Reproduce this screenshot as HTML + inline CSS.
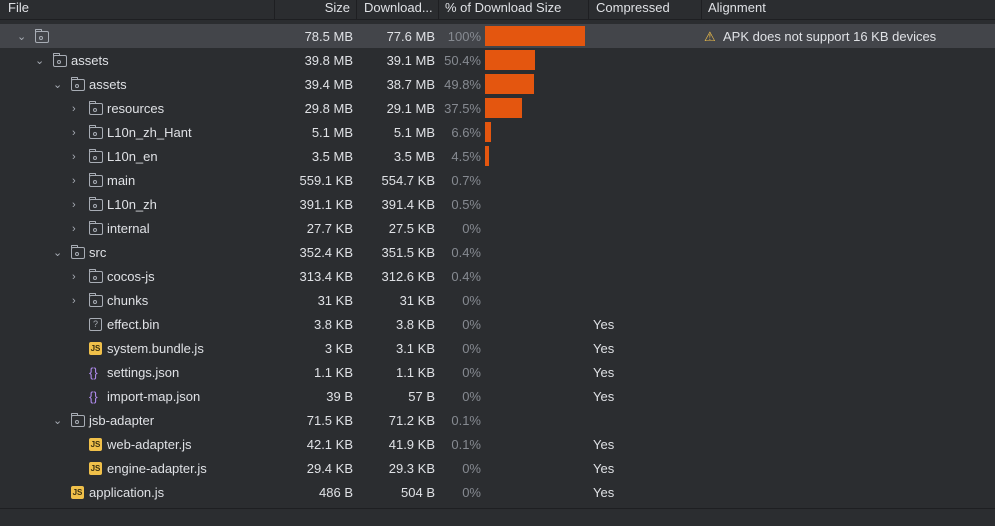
<!DOCTYPE html>
<html><head><meta charset="utf-8"><style>
body{margin:0;width:995px;height:526px;background:#2b2d30;font-family:"Liberation Sans","DejaVu Sans",sans-serif;font-size:13px;color:#dfe1e5;overflow:hidden;position:relative}
.a{position:absolute;white-space:nowrap}
.row .a{top:1px}
.hd{position:absolute;top:0;left:0;width:995px;height:19px;border-bottom:1px solid #1e1f22}
.sep{position:absolute;top:0;width:1px;height:19px;background:#1e1f22}
.row{position:absolute;left:0;width:995px;height:24px;line-height:24px}
.r{text-align:right}
.p{color:#868a91}
.bar{position:absolute;top:2px;height:20px;left:485px;background:#e4560f}
.fold{position:absolute;top:7px;width:12px;height:10px;border:1px solid #a8adb5;border-radius:2px}
.fold:before{content:"";position:absolute;left:-1px;top:-3px;width:5px;height:2px;border:1px solid #a8adb5;border-bottom:none;border-radius:1px 1px 0 0}
.fold:after{content:"";position:absolute;left:3px;top:4px;width:2px;height:2px;border:1px solid #a8adb5;border-radius:50%}
.js{position:absolute;top:6px;width:13px;height:13px;background:#f0c04a;border-radius:2px;color:#3a2f10;font-size:8px;line-height:14px;text-align:center;font-weight:bold}
.q{position:absolute;top:6px;width:11px;height:11px;border:1px solid #a8adb5;border-radius:2px;color:#a8adb5;font-size:9px;line-height:11px;text-align:center}
.br{position:absolute;top:1px;color:#b18cf0;font-size:13px}
.ch{position:absolute;top:1px;color:#a8adb5;font-size:11px}
</style></head><body>
<div class="hd"></div>
<div class="a" style="left:8px;top:0;line-height:16px">File</div>
<div class="sep" style="left:274px"></div>
<div class="a r" style="left:280px;width:70px;top:0;line-height:16px">Size</div>
<div class="sep" style="left:356px"></div>
<div class="a" style="left:364px;top:0;line-height:16px">Download...</div>
<div class="sep" style="left:438px"></div>
<div class="a" style="left:445px;top:0;line-height:16px">% of Download Size</div>
<div class="sep" style="left:588px"></div>
<div class="a" style="left:596px;top:0;line-height:16px">Compressed</div>
<div class="sep" style="left:701px"></div>
<div class="a" style="left:708px;top:0;line-height:16px">Alignment</div>

<div class="row" style="top:24px;background:#43454a"><span class="ch" style="left:17px">&#8964;</span><span class="fold" style="left:35px"></span><span class="a r" style="left:250px;width:103px">78.5 MB</span><span class="a r" style="left:330px;width:105px">77.6 MB</span><span class="a r p" style="left:430px;width:51px">100%</span><div class="bar" style="width:100px"></div><span class="a" style="left:704px;color:#f0c04a">&#9888;</span><span class="a" style="left:723px">APK does not support 16 KB devices</span></div>

<div class="row" style="top:48px"><span class="ch" style="left:35px">&#8964;</span><span class="fold" style="left:53px"></span><span class="a" style="left:71px">assets</span><span class="a r" style="left:250px;width:103px">39.8 MB</span><span class="a r" style="left:330px;width:105px">39.1 MB</span><span class="a r p" style="left:430px;width:51px">50.4%</span><div class="bar" style="width:50px"></div></div>
<div class="row" style="top:72px"><span class="ch" style="left:53px">&#8964;</span><span class="fold" style="left:71px"></span><span class="a" style="left:89px">assets</span><span class="a r" style="left:250px;width:103px">39.4 MB</span><span class="a r" style="left:330px;width:105px">38.7 MB</span><span class="a r p" style="left:430px;width:51px">49.8%</span><div class="bar" style="width:49px"></div></div>
<div class="row" style="top:96px"><span class="ch" style="left:72px">&#8250;</span><span class="fold" style="left:89px"></span><span class="a" style="left:107px">resources</span><span class="a r" style="left:250px;width:103px">29.8 MB</span><span class="a r" style="left:330px;width:105px">29.1 MB</span><span class="a r p" style="left:430px;width:51px">37.5%</span><div class="bar" style="width:37px"></div></div>
<div class="row" style="top:120px"><span class="ch" style="left:72px">&#8250;</span><span class="fold" style="left:89px"></span><span class="a" style="left:107px">L10n_zh_Hant</span><span class="a r" style="left:250px;width:103px">5.1 MB</span><span class="a r" style="left:330px;width:105px">5.1 MB</span><span class="a r p" style="left:430px;width:51px">6.6%</span><div class="bar" style="width:6px"></div></div>
<div class="row" style="top:144px"><span class="ch" style="left:72px">&#8250;</span><span class="fold" style="left:89px"></span><span class="a" style="left:107px">L10n_en</span><span class="a r" style="left:250px;width:103px">3.5 MB</span><span class="a r" style="left:330px;width:105px">3.5 MB</span><span class="a r p" style="left:430px;width:51px">4.5%</span><div class="bar" style="width:4px"></div></div>
<div class="row" style="top:168px"><span class="ch" style="left:72px">&#8250;</span><span class="fold" style="left:89px"></span><span class="a" style="left:107px">main</span><span class="a r" style="left:250px;width:103px">559.1 KB</span><span class="a r" style="left:330px;width:105px">554.7 KB</span><span class="a r p" style="left:430px;width:51px">0.7%</span></div>
<div class="row" style="top:192px"><span class="ch" style="left:72px">&#8250;</span><span class="fold" style="left:89px"></span><span class="a" style="left:107px">L10n_zh</span><span class="a r" style="left:250px;width:103px">391.1 KB</span><span class="a r" style="left:330px;width:105px">391.4 KB</span><span class="a r p" style="left:430px;width:51px">0.5%</span></div>
<div class="row" style="top:216px"><span class="ch" style="left:72px">&#8250;</span><span class="fold" style="left:89px"></span><span class="a" style="left:107px">internal</span><span class="a r" style="left:250px;width:103px">27.7 KB</span><span class="a r" style="left:330px;width:105px">27.5 KB</span><span class="a r p" style="left:430px;width:51px">0%</span></div>
<div class="row" style="top:240px"><span class="ch" style="left:53px">&#8964;</span><span class="fold" style="left:71px"></span><span class="a" style="left:89px">src</span><span class="a r" style="left:250px;width:103px">352.4 KB</span><span class="a r" style="left:330px;width:105px">351.5 KB</span><span class="a r p" style="left:430px;width:51px">0.4%</span></div>
<div class="row" style="top:264px"><span class="ch" style="left:72px">&#8250;</span><span class="fold" style="left:89px"></span><span class="a" style="left:107px">cocos-js</span><span class="a r" style="left:250px;width:103px">313.4 KB</span><span class="a r" style="left:330px;width:105px">312.6 KB</span><span class="a r p" style="left:430px;width:51px">0.4%</span></div>
<div class="row" style="top:288px"><span class="ch" style="left:72px">&#8250;</span><span class="fold" style="left:89px"></span><span class="a" style="left:107px">chunks</span><span class="a r" style="left:250px;width:103px">31 KB</span><span class="a r" style="left:330px;width:105px">31 KB</span><span class="a r p" style="left:430px;width:51px">0%</span></div>
<div class="row" style="top:312px"><span class="q" style="left:89px">?</span><span class="a" style="left:107px">effect.bin</span><span class="a r" style="left:250px;width:103px">3.8 KB</span><span class="a r" style="left:330px;width:105px">3.8 KB</span><span class="a r p" style="left:430px;width:51px">0%</span><span class="a" style="left:593px">Yes</span></div>
<div class="row" style="top:336px"><span class="js" style="left:89px">JS</span><span class="a" style="left:107px">system.bundle.js</span><span class="a r" style="left:250px;width:103px">3 KB</span><span class="a r" style="left:330px;width:105px">3.1 KB</span><span class="a r p" style="left:430px;width:51px">0%</span><span class="a" style="left:593px">Yes</span></div>
<div class="row" style="top:360px"><span class="br" style="left:89px">{}</span><span class="a" style="left:107px">settings.json</span><span class="a r" style="left:250px;width:103px">1.1 KB</span><span class="a r" style="left:330px;width:105px">1.1 KB</span><span class="a r p" style="left:430px;width:51px">0%</span><span class="a" style="left:593px">Yes</span></div>
<div class="row" style="top:384px"><span class="br" style="left:89px">{}</span><span class="a" style="left:107px">import-map.json</span><span class="a r" style="left:250px;width:103px">39 B</span><span class="a r" style="left:330px;width:105px">57 B</span><span class="a r p" style="left:430px;width:51px">0%</span><span class="a" style="left:593px">Yes</span></div>
<div class="row" style="top:408px"><span class="ch" style="left:53px">&#8964;</span><span class="fold" style="left:71px"></span><span class="a" style="left:89px">jsb-adapter</span><span class="a r" style="left:250px;width:103px">71.5 KB</span><span class="a r" style="left:330px;width:105px">71.2 KB</span><span class="a r p" style="left:430px;width:51px">0.1%</span></div>
<div class="row" style="top:432px"><span class="js" style="left:89px">JS</span><span class="a" style="left:107px">web-adapter.js</span><span class="a r" style="left:250px;width:103px">42.1 KB</span><span class="a r" style="left:330px;width:105px">41.9 KB</span><span class="a r p" style="left:430px;width:51px">0.1%</span><span class="a" style="left:593px">Yes</span></div>
<div class="row" style="top:456px"><span class="js" style="left:89px">JS</span><span class="a" style="left:107px">engine-adapter.js</span><span class="a r" style="left:250px;width:103px">29.4 KB</span><span class="a r" style="left:330px;width:105px">29.3 KB</span><span class="a r p" style="left:430px;width:51px">0%</span><span class="a" style="left:593px">Yes</span></div>
<div class="row" style="top:480px"><span class="js" style="left:71px">JS</span><span class="a" style="left:89px">application.js</span><span class="a r" style="left:250px;width:103px">486 B</span><span class="a r" style="left:330px;width:105px">504 B</span><span class="a r p" style="left:430px;width:51px">0%</span><span class="a" style="left:593px">Yes</span></div>

<div class="a" style="left:0;top:508px;width:995px;height:1px;background:#1e1f22"></div>
<div class="a" style="left:0;top:509px;width:995px;height:17px;background:#2b2d30"></div>
</body></html>
